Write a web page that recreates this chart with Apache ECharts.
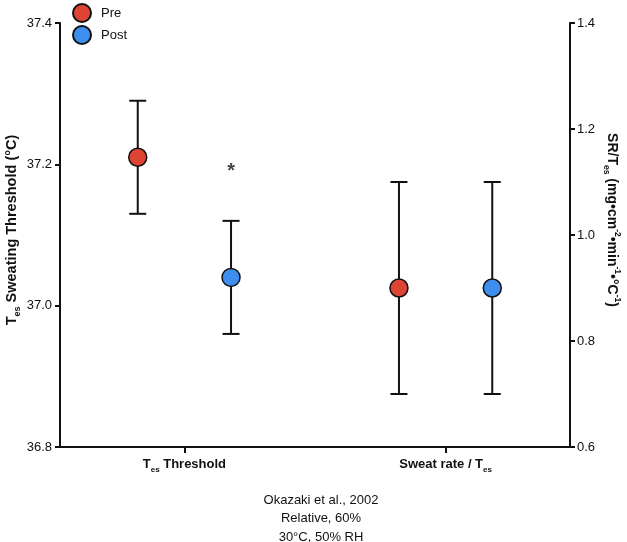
<!DOCTYPE html>
<html>
<head>
<meta charset="utf-8">
<script src="https://cdn.jsdelivr.net/npm/echarts@6/dist/echarts.min.js"></script>
<style>
html,body{margin:0;padding:0;background:#fff;}
#chart{width:627px;height:542px;}
</style>
</head>
<body>
<div id="chart"></div>
<script>
// Data
var categories = ['T{sub|es} Threshold', 'Sweat rate / T{sub|es}'];
var categoryPos = [1, 3.1];
var groupOffset = 0.375;
// Left axis: Tes threshold (°C)
var thresholdMean = [37.21, 37.04];   // Pre, Post
var thresholdLow  = [37.13, 36.96];
var thresholdHigh = [37.29, 37.12];
// Right axis: SR/Tes
var srMean = [0.9, 0.9];               // Pre, Post
var srLow  = [0.7, 0.7];
var srHigh = [1.1, 1.1];
var leftTicks = [36.8, 37.0, 37.2, 37.4];
var rightTicks = [0.6, 0.8, 1.0, 1.2, 1.4];
var asterisk = [categoryPos[0] + groupOffset, 37.196];
var footnote = ['Okazaki et al., 2002', 'Relative, 60%', '30°C, 50% RH'];

var RED = '#DE4433';
var BLUE = '#3D8EEF';
var FONT = 'Liberation Sans, Arial, sans-serif';

var chart = echarts.init(document.getElementById('chart'), null, {renderer: 'canvas'});

function errRender(params, api) {
  var x = api.value(0);
  var lo = api.coord([x, api.value(1)]);
  var hi = api.coord([x, api.value(2)]);
  var w = 8.5;
  var st = {stroke: '#111', lineWidth: 2};
  return {
    type: 'group',
    children: [
      {type: 'line', shape: {x1: lo[0], y1: lo[1], x2: hi[0], y2: hi[1]}, style: st},
      {type: 'line', shape: {x1: lo[0]-w, y1: lo[1], x2: lo[0]+w, y2: lo[1]}, style: st},
      {type: 'line', shape: {x1: hi[0]-w, y1: hi[1], x2: hi[0]+w, y2: hi[1]}, style: st}
    ]
  };
}

function makeRich(size) {
  return {
    sub: {fontSize: size, fontWeight: 'bold', fontFamily: FONT, color: '#111', verticalAlign: 'bottom', padding: [0,0,-3,0]},
    sup: {fontSize: size, fontWeight: 'bold', fontFamily: FONT, color: '#111', verticalAlign: 'top', padding: [-3,0,0,0]}
  };
}

var pointStyle = function (c) { return {color: c, borderColor: '#111', borderWidth: 1.5, opacity: 1}; };

var option = {
  animation: false,
  backgroundColor: '#fff',
  textStyle: {fontFamily: FONT},
  legend: {
    orient: 'vertical',
    left: 72,
    top: 3,
    padding: 0,
    itemGap: 2,
    itemWidth: 18,
    itemHeight: 18,
    icon: 'circle',
    data: ['Pre', 'Post'],
    textStyle: {fontSize: 13, color: '#111', fontFamily: FONT, padding: [0, 0, 0, 5]}
  },
  title: {
    text: footnote.join('\n'),
    left: 316,
    top: 486,
    textAlign: 'center',
    textStyle: {fontSize: 13, fontWeight: 'normal', color: '#111', lineHeight: 18.5, fontFamily: FONT}
  },
  grid: {left: 60, right: 57, top: 23, bottom: 95, containLabel: false, outerBoundsMode: 'none'},
  xAxis: {
    type: 'value',
    min: 0,
    max: 4.1,
    splitLine: {show: false},
    axisLine: {show: true, lineStyle: {color: '#111', width: 2}},
    axisTick: {show: true, length: 6, lineStyle: {color: '#111', width: 2}, customValues: categoryPos},
    axisLabel: {
      show: true,
      customValues: categoryPos,
      margin: 11,
      formatter: function (v) {
        var i = categoryPos.indexOf(v);
        return i >= 0 ? categories[i] : '';
      },
      fontSize: 13,
      fontWeight: 'bold',
      color: '#111',
      fontFamily: FONT,
      rich: makeRich(8)
    }
  },
  yAxis: [
    {
      type: 'value',
      position: 'left',
      min: 36.8,
      max: 37.4,
      interval: 0.2,
      splitLine: {show: false},
      axisLine: {show: true, lineStyle: {color: '#111', width: 2}},
      axisTick: {show: true, length: 5, lineStyle: {color: '#111', width: 2}},
      axisLabel: {fontSize: 13, color: '#111', margin: 8, fontFamily: FONT, formatter: function (v) { return v.toFixed(1); }},
      name: 'T{sub|es} Sweating Threshold (°C)',
      nameLocation: 'middle',
      nameGap: 41,
      nameMoveOverlap: false,
      nameTextStyle: {fontSize: 14.5, fontWeight: 'bold', color: '#111', fontFamily: FONT, rich: makeRich(9), padding: [0, 0, 0, 10]}
    },
    {
      type: 'value',
      position: 'right',
      min: 0.6,
      max: 1.4,
      interval: 0.2,
      splitLine: {show: false},
      axisLine: {show: true, lineStyle: {color: '#111', width: 2}},
      axisTick: {show: true, length: 5, lineStyle: {color: '#111', width: 2}},
      axisLabel: {fontSize: 13, color: '#111', margin: 7, fontFamily: FONT, formatter: function (v) { return v.toFixed(1); }},
      name: 'SR/T{sub|es} (mg•cm{sup|-2}•min{sup|-1}•°C{sup|-1})',
      nameLocation: 'middle',
      nameRotate: -90,
      nameGap: 35,
      nameMoveOverlap: false,
      nameTextStyle: {fontSize: 14, fontWeight: 'bold', color: '#111', fontFamily: FONT, rich: makeRich(8.5), padding: [0, 30, 0, 0]}
    }
  ],
  series: [
    {
      type: 'custom', name: 'errThreshold', yAxisIndex: 0, renderItem: errRender, z: 2,
      encode: {x: 0, y: [1, 2]},
      data: [
        [categoryPos[0] - groupOffset, thresholdLow[0], thresholdHigh[0]],
        [categoryPos[0] + groupOffset, thresholdLow[1], thresholdHigh[1]]
      ]
    },
    {
      type: 'custom', name: 'errSR', yAxisIndex: 1, renderItem: errRender, z: 2,
      encode: {x: 0, y: [1, 2]},
      data: [
        [categoryPos[1] - groupOffset, srLow[0], srHigh[0]],
        [categoryPos[1] + groupOffset, srLow[1], srHigh[1]]
      ]
    },
    {
      type: 'scatter', name: 'Pre', yAxisIndex: 0, symbolSize: 18, z: 5,
      itemStyle: pointStyle(RED),
      data: [[categoryPos[0] - groupOffset, thresholdMean[0]]]
    },
    {
      type: 'scatter', name: 'Post', yAxisIndex: 0, symbolSize: 18, z: 5,
      itemStyle: pointStyle(BLUE),
      data: [[categoryPos[0] + groupOffset, thresholdMean[1]]]
    },
    {
      type: 'scatter', name: 'Pre', yAxisIndex: 1, symbolSize: 18, z: 5,
      itemStyle: pointStyle(RED),
      data: [[categoryPos[1] - groupOffset, srMean[0]]]
    },
    {
      type: 'scatter', name: 'Post', yAxisIndex: 1, symbolSize: 18, z: 5,
      itemStyle: pointStyle(BLUE),
      data: [[categoryPos[1] + groupOffset, srMean[1]]]
    },
    {
      type: 'scatter', name: 'asterisk', yAxisIndex: 0, symbolSize: 2, z: 5,
      itemStyle: {color: 'rgba(0,0,0,0)', borderWidth: 0},
      label: {show: true, position: 'inside', formatter: '*', fontSize: 20, fontWeight: 'bold', color: '#111', fontFamily: FONT, offset: [0, 4]},
      data: [asterisk]
    }
  ]
};
chart.setOption(option);
</script>
</body>
</html>
